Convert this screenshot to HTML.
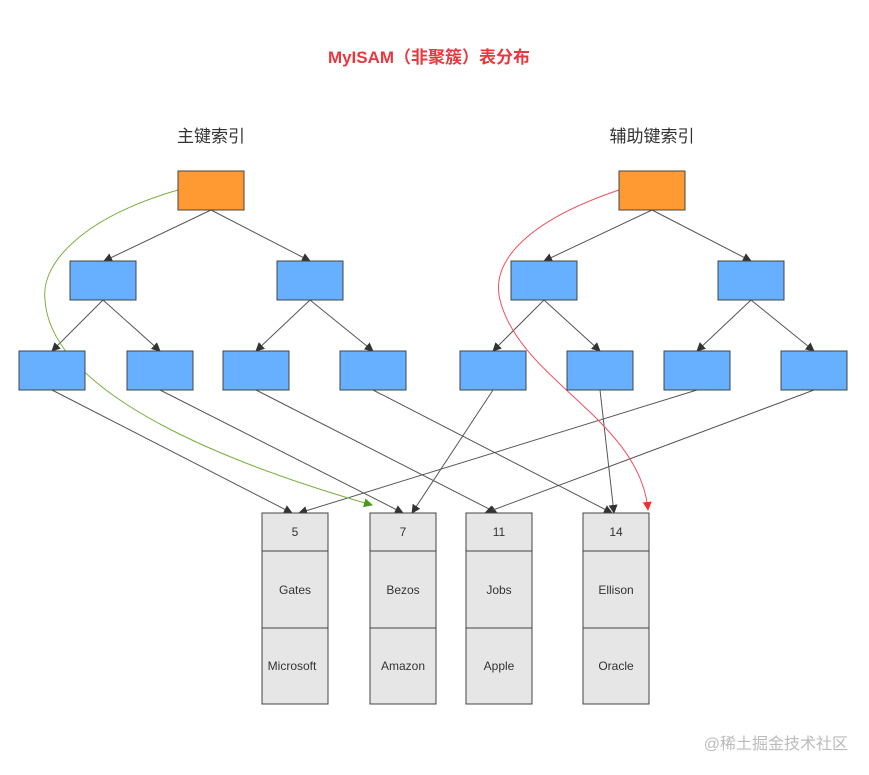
<!DOCTYPE html>
<html><head><meta charset="utf-8"><style>
body{margin:0;background:#fff;width:869px;height:775px;overflow:hidden}
svg{display:block}
text{font-family:"Liberation Sans","Noto Sans CJK SC",sans-serif}
</style></head><body>
<svg width="869" height="775" viewBox="0 0 869 775">
<defs>
<marker id="a" viewBox="0 0 10 10" refX="9" refY="5" markerWidth="9" markerHeight="9" orient="auto" markerUnits="userSpaceOnUse"><path d="M0,0L10,5L0,10z" fill="#333"/></marker>
<marker id="g" viewBox="0 0 10 10" refX="9" refY="5" markerWidth="9" markerHeight="9" orient="auto" markerUnits="userSpaceOnUse"><path d="M0,0L10,5L0,10z" fill="#4a9a1a"/></marker>
<marker id="r" viewBox="0 0 10 10" refX="9" refY="5" markerWidth="9" markerHeight="9" orient="auto" markerUnits="userSpaceOnUse"><path d="M0,0L10,5L0,10z" fill="#f03030"/></marker>
</defs>
<text x="429" y="63" text-anchor="middle" font-size="17" font-weight="bold" fill="#e8383d">MyISAM（非聚簇）表分布</text>
<text x="211" y="142" text-anchor="middle" font-size="17" fill="#333">主键索引</text>
<text x="652" y="142" text-anchor="middle" font-size="17" fill="#333">辅助键索引</text>
<g stroke="#555" stroke-width="1" marker-end="url(#a)" fill="none">
<line x1="211" y1="210" x2="104" y2="261"/><line x1="211" y1="210" x2="310" y2="261"/>
<line x1="103" y1="300" x2="52" y2="351"/><line x1="103" y1="300" x2="160" y2="351"/>
<line x1="310" y1="300" x2="256" y2="351"/><line x1="310" y1="300" x2="373" y2="351"/>
<line x1="652" y1="210" x2="544" y2="261"/><line x1="652" y1="210" x2="751" y2="261"/>
<line x1="544" y1="300" x2="493" y2="351"/><line x1="544" y1="300" x2="600" y2="351"/>
<line x1="751" y1="300" x2="697" y2="351"/><line x1="751" y1="300" x2="814" y2="351"/>
<line x1="52" y1="390" x2="292" y2="513"/><line x1="160" y1="390" x2="403" y2="513"/>
<line x1="256" y1="390" x2="497" y2="513"/><line x1="373" y1="390" x2="612" y2="513"/>
<line x1="493" y1="390" x2="412" y2="513"/><line x1="600" y1="390" x2="614" y2="513"/>
<line x1="697" y1="390" x2="299" y2="513"/><line x1="814" y1="390" x2="485" y2="513"/>
</g>
<path d="M178,190 C90,215 40,260 45,300 C52,400 250,470 372,505" stroke="#7ab040" fill="none" marker-end="url(#g)"/>
<path d="M619,190 C530,220 490,260 500,300 C520,380 640,420 648,510" stroke="#f05060" fill="none" marker-end="url(#r)"/>
<g stroke="#444" stroke-width="1">
<rect x="178" y="171" width="66" height="39" fill="#ff9a33"/>
<rect x="619" y="171" width="66" height="39" fill="#ff9a33"/>
<g fill="#66b0ff">
<rect x="70" y="261" width="66" height="39"/><rect x="277" y="261" width="66" height="39"/>
<rect x="511" y="261" width="66" height="39"/><rect x="718" y="261" width="66" height="39"/>
<rect x="19" y="351" width="66" height="39"/><rect x="127" y="351" width="66" height="39"/>
<rect x="223" y="351" width="66" height="39"/><rect x="340" y="351" width="66" height="39"/>
<rect x="460" y="351" width="66" height="39"/><rect x="567" y="351" width="66" height="39"/>
<rect x="664" y="351" width="66" height="39"/><rect x="781" y="351" width="66" height="39"/>
</g>
<g fill="#e6e6e6">
<rect x="262" y="513" width="66" height="38"/><rect x="262" y="551" width="66" height="77"/><rect x="262" y="628" width="66" height="76"/>
<rect x="370" y="513" width="66" height="38"/><rect x="370" y="551" width="66" height="77"/><rect x="370" y="628" width="66" height="76"/>
<rect x="466" y="513" width="66" height="38"/><rect x="466" y="551" width="66" height="77"/><rect x="466" y="628" width="66" height="76"/>
<rect x="583" y="513" width="66" height="38"/><rect x="583" y="551" width="66" height="77"/><rect x="583" y="628" width="66" height="76"/>
</g></g>
<g font-size="12" fill="#333" text-anchor="middle">
<text x="295" y="536">5</text><text x="295" y="594">Gates</text><text x="292" y="670">Microsoft</text>
<text x="403" y="536">7</text><text x="403" y="594">Bezos</text><text x="403" y="670">Amazon</text>
<text x="499" y="536">11</text><text x="499" y="594">Jobs</text><text x="499" y="670">Apple</text>
<text x="616" y="536">14</text><text x="616" y="594">Ellison</text><text x="616" y="670">Oracle</text>
</g>
<text x="848" y="749" text-anchor="end" font-size="16" fill="#bbb">@稀土掘金技术社区</text>
</svg>
</body></html>
